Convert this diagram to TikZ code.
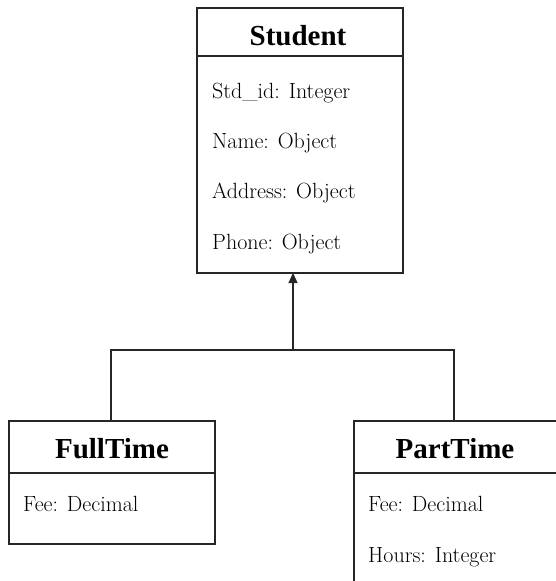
\documentclass[tikz,border=0pt]{standalone}
\usepackage{fontspec}
\newfontfamily\titlefont{Liberation Serif}
\usetikzlibrary{arrows.meta}
\begin{document}
\begin{tikzpicture}[x=1pt,y=-1pt,
  classbox/.style={draw=black!85, line width=1.5pt, rectangle, anchor=north west,
    inner sep=0pt, outer sep=0pt},
  divider/.style={draw=black!85, line width=1.5pt},
  classname/.style={font=\titlefont\fontsize{29}{32}\selectfont\bfseries, anchor=base},
  attr/.style={font=\fontsize{22}{25}\selectfont, anchor=base west, inner sep=0pt},
  link/.style={draw=black!85, line width=1.3pt},
  inherit/.style={link, -{Triangle[length=10pt,width=9pt]}}]
  \useasboundingbox (0,0) rectangle (556,581);
  \clip (0,0) rectangle (556,581);

  % superclass
  \node[classbox, minimum width=206pt, minimum height=265pt] (student) at (197,8) {};
  \draw[divider] (197,56) -- (403,56);
  \node[classname] (studentname) at (298,45) {Student};
  \node[attr] (a1) at (212,98) {Std\_id: Integer};
  \node[attr] (a2) at (212,148) {Name: Object};
  \node[attr] (a3) at (212,198) {Address: Object};
  \node[attr] (a4) at (212,249) {Phone: Object};

  % subclass: full time
  \node[classbox, minimum width=206pt, minimum height=123pt] (ft) at (9,421) {};
  \draw[divider] (9,473) -- (215,473);
  \node[classname] (ftname) at (112,458) {FullTime};
  \node[attr] (f1) at (23,511) {Fee: Decimal};

  % subclass: part time
  \node[classbox, minimum width=220pt, minimum height=200pt] (pt) at (354,421) {};
  \draw[divider] (354,473) -- (580,473);
  \node[classname] (ptname) at (455,458) {PartTime};
  \node[attr] (p1) at (368,511) {Fee: Decimal};
  \node[attr] (p2) at (368,562) {Hours: Integer};

  % generalisation connector
  \coordinate (bus) at (293,350);
  \coordinate (ftin) at (111,421);
  \coordinate (ptin) at (454,421);
  \draw[link] (ftin) -- (ftin |- bus) -- (ptin |- bus) -- (ptin);
  \draw[inherit] (bus) -- (student.south -| bus);
\end{tikzpicture}
\end{document}
